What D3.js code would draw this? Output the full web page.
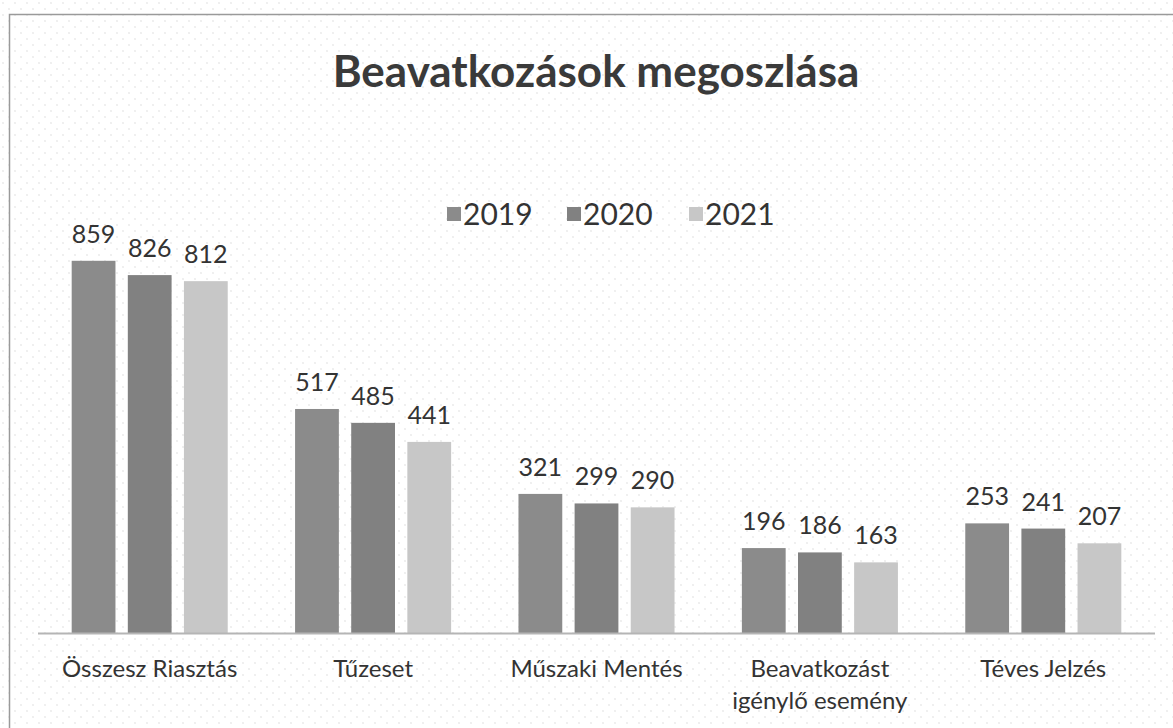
<!DOCTYPE html>
<html>
<head>
<meta charset="utf-8">
<script src="https://cdn.jsdelivr.net/npm/d3@7"></script>
<style>
  body { margin: 0; background: #fff; }
  text { font-family: Lato, "Open Sans", sans-serif; }
</style>
</head>
<body>
<script>
// chart data
var categories = ["Összesz Riasztás", "Tűzeset", "Műszaki Mentés", "Beavatkozást igénylő esemény", "Téves Jelzés"];
var categoryLines = [["Összesz Riasztás"], ["Tűzeset"], ["Műszaki Mentés"], ["Beavatkozást", "igénylő esemény"], ["Téves Jelzés"]];
var years = ["2019", "2020", "2021"];
var values2019 = [859, 517, 321, 196, 253];
var values2020 = [826, 485, 299, 186, 241];
var values2021 = [812, 441, 290, 163, 207];
var series = [values2019, values2020, values2021];

var width = 1173,
    height = 728;

var colors = ["#8b8b8b", "#818181", "#c7c7c7"];

var svg = d3.select("body").append("svg")
    .attr("width", width)
    .attr("height", height);

// faint dotted paper background
var pat = svg.append("defs").append("pattern")
    .attr("id", "dots")
    .attr("width", 12).attr("height", 12)
    .attr("patternUnits", "userSpaceOnUse");
pat.append("circle").attr("cx", 3).attr("cy", 3).attr("r", 1.1).attr("fill", "#ececec");
pat.append("circle").attr("cx", 9).attr("cy", 9).attr("r", 1.1).attr("fill", "#ececec");

svg.append("rect")
    .attr("x", 0).attr("y", 0)
    .attr("width", width).attr("height", height)
    .attr("fill", "url(#dots)");

// chart border
svg.append("rect")
    .attr("x", 9.5).attr("y", 14.5)
    .attr("width", 1190).attr("height", 740)
    .attr("fill", "none")
    .attr("stroke", "#9a9a9a")
    .attr("stroke-width", 1.5);

var x0 = d3.scaleBand()
    .domain(categories)
    .range([38, 1155])
    .paddingInner(0)
    .paddingOuter(0);

var x1 = d3.scaleBand()
    .domain(years)
    .range([0, x0.bandwidth()])
    .paddingInner(0.22)
    .paddingOuter(0.6);

var y = d3.scaleLinear()
    .domain([0, 900])
    .range([633, 633 - 900 * 0.4333]);

// title
svg.append("text")
    .attr("x", 596)
    .attr("y", 87)
    .attr("text-anchor", "middle")
    .attr("font-size", 44)
    .attr("font-weight", "bold")
    .attr("fill", "#3a3a3a")
    .text("Beavatkozások megoszlása");

// legend
var legendX = [447, 567, 689];
var legend = svg.selectAll(".legend")
    .data(years)
  .enter().append("g")
    .attr("class", "legend")
    .attr("transform", function(d, i) { return "translate(" + legendX[i] + ",214)"; });

legend.append("rect")
    .attr("x", 0).attr("y", -7)
    .attr("width", 14).attr("height", 14)
    .attr("fill", function(d, i) { return colors[i]; });

legend.append("text")
    .attr("x", 16)
    .attr("y", 11)
    .attr("font-size", 30)
    .attr("fill", "#333")
    .text(function(d) { return d; });

// bars
var groups = svg.selectAll(".group")
    .data(categories)
  .enter().append("g")
    .attr("class", "group")
    .attr("transform", function(d) { return "translate(" + x0(d) + ",0)"; });

groups.selectAll("rect")
    .data(function(d, ci) { return years.map(function(yr, si) { return {year: yr, value: series[si][ci], s: si}; }); })
  .enter().append("rect")
    .attr("x", function(d) { return x1(d.year); })
    .attr("y", function(d) { return y(d.value); })
    .attr("width", x1.bandwidth())
    .attr("height", function(d) { return y(0) - y(d.value); })
    .attr("fill", function(d) { return colors[d.s]; });

groups.selectAll(".val")
    .data(function(d, ci) { return years.map(function(yr, si) { return {year: yr, value: series[si][ci]}; }); })
  .enter().append("text")
    .attr("class", "val")
    .attr("x", function(d) { return x1(d.year) + x1.bandwidth() / 2; })
    .attr("y", function(d) { return y(d.value) - 18; })
    .attr("text-anchor", "middle")
    .attr("font-size", 25)
    .attr("fill", "#333")
    .text(function(d) { return d.value; });

// axis line
svg.append("line")
    .attr("x1", 38).attr("x2", 1155)
    .attr("y1", y(0) + 0.5).attr("y2", y(0) + 0.5)
    .attr("stroke", "#b5b5b5")
    .attr("stroke-width", 2);

// category labels
groups.append("text")
    .attr("text-anchor", "middle")
    .attr("font-size", 24)
    .attr("fill", "#333")
    .selectAll("tspan")
    .data(function(d, i) { return categoryLines[i]; })
  .enter().append("tspan")
    .attr("x", x0.bandwidth() / 2)
    .attr("y", function(d, i) { return 677 + i * 32; })
    .text(function(d) { return d; });
</script>
</body>
</html>
